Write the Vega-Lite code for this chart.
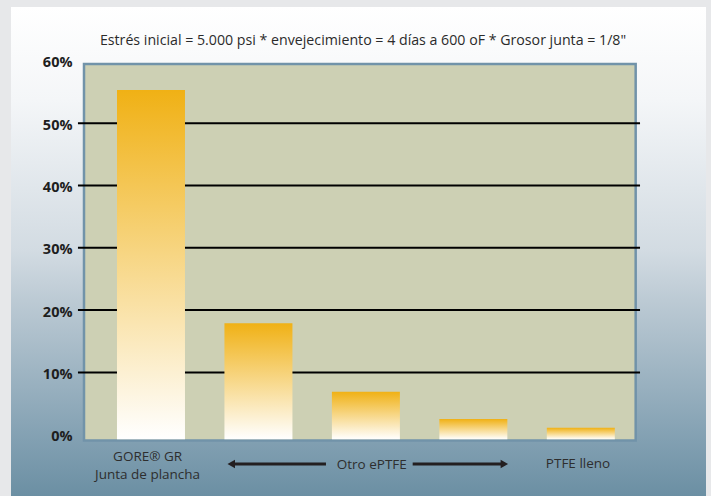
{
  "$schema": "https://vega.github.io/schema/vega-lite/v6.json",
  "width": 695,
  "height": 489,
  "autosize": "none",
  "padding": {"left": 11, "top": 7, "right": 5, "bottom": 0},
  "background": "#e7e8ea",
  "view": {
    "stroke": null,
    "fill": {
      "gradient": "linear", "x1": 0, "y1": 0, "x2": 0, "y2": 1,
      "stops": [
        {"offset": 0, "color": "#ffffff"},
        {"offset": 0.19, "color": "#f4f6f8"},
        {"offset": 0.5, "color": "#d2dbe2"},
        {"offset": 0.6, "color": "#bccad4"},
        {"offset": 0.885, "color": "#82a0b2"},
        {"offset": 1, "color": "#6b8fa3"}
      ]
    }
  },
  "title": {
    "text": "Estrés inicial = 5.000 psi * envejecimiento = 4 días a 600 oF * Grosor junta = 1/8\"",
    "font": "Open Sans",
    "fontSize": 14.2,
    "fontWeight": "normal",
    "color": "#2b2b2b",
    "anchor": "middle",
    "frame": "group",
    "baseline": "alphabetic",
    "offset": -52.5,
    "dx": 4.5
  },
  "datasets": {
    "barras": [
      {"material": "GORE® GR Junta de plancha", "reduccion": 0.553},
      {"material": "Otro ePTFE A", "reduccion": 0.179},
      {"material": "Otro ePTFE B", "reduccion": 0.069},
      {"material": "Otro ePTFE C", "reduccion": 0.025},
      {"material": "PTFE lleno", "reduccion": 0.011}
    ],
    "rejilla": [
      {"valor": 0.1}, {"valor": 0.2}, {"valor": 0.3}, {"valor": 0.4}, {"valor": 0.5}
    ],
    "flecha": [{}]
  },
  "layer": [
    {
      "data": {"name": "flecha"},
      "mark": {"type": "rect", "fill": "#cdd0b4", "stroke": "#7193a9", "strokeWidth": 2.5},
      "encoding": {
        "x": {"datum": "GORE® GR Junta de plancha", "type": "nominal", "bandPosition": -0.485, "title": null,
              "scale": {"domain": ["GORE® GR Junta de plancha", "Otro ePTFE A", "Otro ePTFE B", "Otro ePTFE C", "PTFE lleno"], "paddingInner": 0.3672, "paddingOuter": 0.9175, "align": 0.5375}},
        "x2": {"datum": "PTFE lleno", "bandPosition": 1.307},
        "y": {"datum": 0.595, "type": "quantitative", "title": null, "scale": {"domain": [-0.0984, 0.6864], "nice": false, "zero": false}},
        "y2": {"datum": -0.0095}
      }
    },
    {
      "data": {"name": "rejilla"},
      "mark": {"type": "rule", "color": "#000000", "strokeWidth": 2},
      "encoding": {
        "x": {"datum": "GORE® GR Junta de plancha", "type": "nominal", "bandPosition": -0.574, "title": null},
        "x2": {"datum": "PTFE lleno", "bandPosition": 1.371},
        "y": {"field": "valor", "type": "quantitative", "title": null}
      }
    },
    {
      "data": {"name": "barras"},
      "mark": {
        "type": "bar",
        "fill": {
          "gradient": "linear", "x1": 0, "y1": 0, "x2": 0, "y2": 1,
          "stops": [
            {"offset": 0, "color": "#f0b115"},
            {"offset": 1, "color": "#ffffff"}
          ]
        }
      },
      "encoding": {
        "x": {
          "field": "material", "type": "nominal", "title": null,
          "axis": {
            "orient": "bottom", "title": null, "labels": false,
            "domain": false, "ticks": false, "tickSize": 0, "grid": false
          }
        },
        "y": {
          "field": "reduccion", "type": "quantitative", "title": null,
          "axis": {
            "orient": "left", "offset": -61, "title": null, "domain": false, "ticks": false, "tickSize": 0, "grid": false,
            "labelPadding": 0, "labelOffset": 2,
            "values": [0, 0.1, 0.2, 0.3, 0.4, 0.5, 0.6], "format": ".0%",
            "labelFont": "Open Sans", "labelFontWeight": "bold", "labelFontSize": 14.5, "labelColor": "#1e1e1e"
          }
        },
        "y2": {"datum": -0.0075}
      }
    },
    {
      "data": {"name": "flecha"},
      "mark": {"type": "text", "text": "GORE® GR", "font": "Open Sans", "fontSize": 13.5, "color": "#2e2e2e", "align": "center", "baseline": "alphabetic"},
      "encoding": {
        "x": {"datum": "GORE® GR Junta de plancha", "type": "nominal", "bandPosition": 0.45, "title": null},
        "y": {"datum": -0.0422, "type": "quantitative", "title": null}
      }
    },
    {
      "data": {"name": "flecha"},
      "mark": {"type": "text", "text": "Junta de plancha", "font": "Open Sans", "fontSize": 13.5, "color": "#2e2e2e", "align": "center", "baseline": "alphabetic"},
      "encoding": {
        "x": {"datum": "GORE® GR Junta de plancha", "type": "nominal", "bandPosition": 0.45, "title": null},
        "y": {"datum": -0.0706, "type": "quantitative", "title": null}
      }
    },
    {
      "data": {"name": "flecha"},
      "mark": {"type": "text", "text": "Otro ePTFE", "font": "Open Sans", "fontSize": 13.5, "color": "#2e2e2e", "align": "center", "baseline": "alphabetic"},
      "encoding": {
        "x": {"datum": "Otro ePTFE B", "type": "nominal", "bandPosition": 0.587, "title": null},
        "y": {"datum": -0.055, "type": "quantitative", "title": null}
      }
    },
    {
      "data": {"name": "flecha"},
      "mark": {"type": "text", "text": "PTFE lleno", "font": "Open Sans", "fontSize": 13.5, "color": "#2e2e2e", "align": "center", "baseline": "alphabetic"},
      "encoding": {
        "x": {"datum": "PTFE lleno", "type": "nominal", "bandPosition": 0.459, "title": null},
        "y": {"datum": -0.054, "type": "quantitative", "title": null}
      }
    },
    {
      "data": {"name": "flecha"},
      "mark": {"type": "rule", "color": "#231f20", "strokeWidth": 3},
      "encoding": {
        "x": {"datum": "Otro ePTFE A", "type": "nominal", "bandPosition": 0.1, "title": null},
        "x2": {"datum": "Otro ePTFE B", "bandPosition": -0.087},
        "y": {"datum": -0.047, "type": "quantitative", "title": null}
      }
    },
    {
      "data": {"name": "flecha"},
      "mark": {"type": "rule", "color": "#231f20", "strokeWidth": 3},
      "encoding": {
        "x": {"datum": "Otro ePTFE B", "type": "nominal", "bandPosition": 1.188, "title": null},
        "x2": {"datum": "Otro ePTFE C", "bandPosition": 0.956},
        "y": {"datum": -0.047, "type": "quantitative", "title": null}
      }
    },
    {
      "data": {"name": "flecha"},
      "mark": {"type": "point", "shape": "triangle-left", "filled": true, "color": "#231f20", "opacity": 1, "size": 75},
      "encoding": {
        "x": {"datum": "Otro ePTFE A", "type": "nominal", "bandPosition": 0.1, "title": null},
        "y": {"datum": -0.047, "type": "quantitative", "title": null}
      }
    },
    {
      "data": {"name": "flecha"},
      "mark": {"type": "point", "shape": "triangle-right", "filled": true, "color": "#231f20", "opacity": 1, "size": 75},
      "encoding": {
        "x": {"datum": "Otro ePTFE C", "type": "nominal", "bandPosition": 0.956, "title": null},
        "y": {"datum": -0.047, "type": "quantitative", "title": null}
      }
    }
  ]
}
